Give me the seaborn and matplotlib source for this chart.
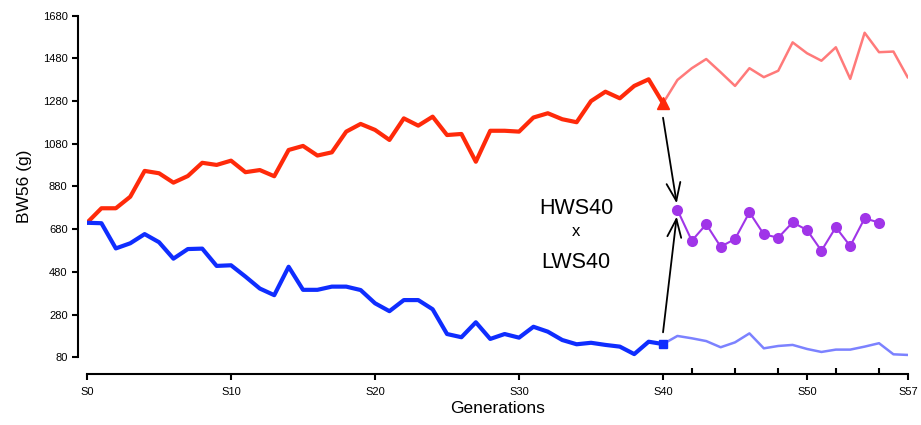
import pandas as pd
import matplotlib
matplotlib.use("Agg")
import matplotlib.pyplot as plt
from matplotlib.ticker import FixedLocator
import seaborn as sns

# values, BW56 (g) per generation
hws_gen = list(range(0, 41))
hws_bw = [710, 778, 778, 832, 953, 942, 898, 929, 991, 981, 1001, 947, 957, 928, 1051,
          1070, 1025, 1040, 1137, 1173, 1145, 1098, 1199, 1165, 1207, 1121, 1126, 996,
          1141, 1141, 1137, 1203, 1223, 1195, 1181, 1280, 1324, 1293, 1351, 1382, 1270]
lws_gen = list(range(0, 41))
lws_bw = [710, 708, 590, 614, 657, 619, 542, 587, 589, 508, 511, 458, 402, 371, 504,
          396, 396, 411, 411, 395, 333, 296, 348, 348, 305, 189, 174, 244, 166, 189,
          172, 223, 200, 161, 141, 148, 138, 130, 95, 153, 142]

hws_late_gen = list(range(40, 58))
hws_late_bw = [1270, 1379, 1434, 1477, 1415, 1351, 1434, 1392, 1422, 1555, 1504, 1469,
               1532, 1384, 1600, 1509, 1512, 1390]
lws_late_gen = list(range(40, 58))
lws_late_bw = [142, 180, 169, 156, 127, 150, 192, 122, 133, 138, 119, 105, 116, 116,
               130, 146, 94, 91]

cross_gen = list(range(41, 56))
cross_bw = [770, 626, 703, 598, 634, 759, 656, 640, 712, 676, 579, 689, 601, 731, 711]

major_ticks = [0, 10, 20, 30, 40, 50, 57]
major_labels = ["S0", "S10", "S20", "S30", "S40", "S50", "S57"]
minor_ticks = [42, 45, 48, 52, 55]
y_ticks = [80, 280, 480, 680, 880, 1080, 1280, 1480, 1680]

red = "#FF2A0A"
blue = "#0F2DFF"
light_red = "#FF7A7A"
light_blue = "#7C82FF"
purple = "#A035E8"

sns.set_style("ticks")
plt.rcParams["font.family"] = ["Liberation Sans", "DejaVu Sans"]
plt.rcParams["text.color"] = "black"
plt.rcParams["axes.labelcolor"] = "black"
plt.rcParams["xtick.color"] = "black"
plt.rcParams["ytick.color"] = "black"

fig = plt.figure(figsize=(9.21, 4.25), dpi=100)
ax = fig.add_axes([0.0945, 0.1593, 0.8912, 0.8038])

df_hws = pd.DataFrame({"gen": hws_gen, "bw": hws_bw})
df_lws = pd.DataFrame({"gen": lws_gen, "bw": lws_bw})
df_hws2 = pd.DataFrame({"gen": hws_late_gen, "bw": hws_late_bw})
df_lws2 = pd.DataFrame({"gen": lws_late_gen, "bw": lws_late_bw})
df_cross = pd.DataFrame({"gen": cross_gen, "bw": cross_bw})

sns.lineplot(data=df_hws2, x="gen", y="bw", color=light_red, lw=1.8, ax=ax)
sns.lineplot(data=df_lws2, x="gen", y="bw", color=light_blue, lw=1.8, ax=ax)
sns.lineplot(data=df_hws, x="gen", y="bw", color=red, lw=3, ax=ax)
sns.lineplot(data=df_lws, x="gen", y="bw", color=blue, lw=3, ax=ax)
sns.lineplot(data=df_cross, x="gen", y="bw", color=purple, lw=1.5, marker="o",
             markersize=8, markeredgewidth=0, ax=ax)

# end points of the selected lines
ax.plot(hws_gen[-1], hws_bw[-1], marker="^", color=red, markersize=8, zorder=5)
ax.plot(lws_gen[-1], lws_bw[-1], marker="s", color=blue, markersize=6, zorder=5)

arrow = dict(arrowstyle="->,head_length=1.3,head_width=0.5", lw=1.3, color="black",
             shrinkA=0, shrinkB=0)
ax.annotate("", xy=(40.95, 801), xytext=(40, 1202), arrowprops=arrow)
ax.annotate("", xy=(40.95, 739), xytext=(40, 197), arrowprops=arrow)

ax.text(33.95, 775, "HWS40", ha="center", va="center", fontsize=15.5)
ax.text(33.95, 667, "x", ha="center", va="center", fontsize=12)
ax.text(33.95, 524, "LWS40", ha="center", va="center", fontsize=15.5)

ax.set_xlim(0, 57)
ax.set_ylim(80, 1680)
ax.set_xticks(major_ticks)
ax.set_xticklabels(major_labels)
ax.xaxis.set_minor_locator(FixedLocator(minor_ticks))
ax.set_yticks(y_ticks)
ax.tick_params(axis="both", which="major", labelsize=8, width=1.5, length=4.5,
               color="black", direction="out")
ax.tick_params(axis="x", which="minor", width=1.5, length=4, direction="in")
ax.tick_params(axis="x", which="major", pad=5)
ax.tick_params(axis="y", which="major", pad=3)

ax.set_xlabel("Generations", fontsize=12.5, labelpad=3)
ax.set_ylabel("BW56 (g)", fontsize=12.5, labelpad=8)

sns.despine(ax=ax, offset={"left": 6.5, "bottom": 12})
for s in ["left", "bottom"]:
    ax.spines[s].set_linewidth(1.5)
    ax.spines[s].set_color("black")

fig.savefig("out.png", dpi=100)
